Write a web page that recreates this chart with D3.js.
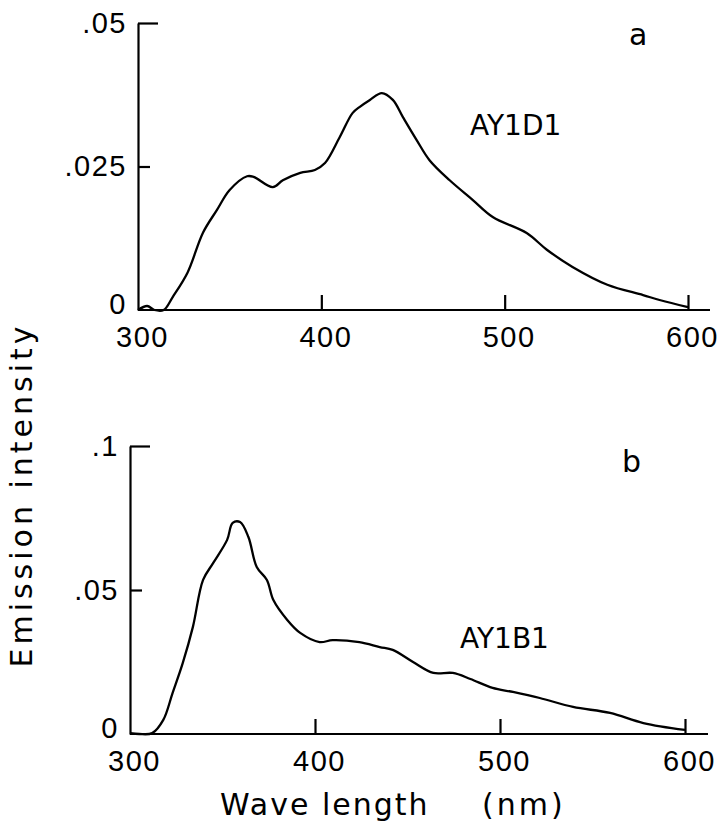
<!DOCTYPE html>
<html>

<head>
    <meta charset="utf-8">
    <title>Emission spectra</title>
    <script src="https://d3js.org/d3.v7.min.js"></script>
    <style>
        body { margin: 0; background: #fff; }
        svg { display: block; font-family: "DejaVu Sans", sans-serif; }
    </style>
</head>

<body>
    <div id="graph"></div>

    <script>
        // wavelength (nm) / emission intensity
        const waveA = [300, 305, 309, 314, 319, 327, 335.5, 343, 350, 359.5, 363, 373.5, 379, 388.5, 396.5, 402, 410, 417, 421, 426.5, 433, 439, 444.5, 452, 459, 470, 482.5, 493.5, 512, 523, 537, 556, 575.5, 585, 600];
        const intensityA = [0, 0.0007, 0, 0, 0.0023, 0.0065, 0.0135, 0.0174, 0.0209, 0.0233, 0.0232, 0.0214, 0.0226, 0.0239, 0.0244, 0.0256, 0.0301, 0.0343, 0.0354, 0.0366, 0.0378, 0.0366, 0.0336, 0.0296, 0.0261, 0.0226, 0.0192, 0.0162, 0.0134, 0.0105, 0.0075, 0.0044, 0.0026, 0.0017, 0.0005];

        const waveB = [300, 305, 312, 318, 323, 328.5, 334, 339.5, 345, 352.5, 355.5, 359.5, 364, 368.5, 374, 377.5, 385, 392, 402.5, 409.5, 424, 435, 442, 453, 464, 474.5, 484, 496, 507, 521.5, 539.5, 559.5, 577.5, 600];
        const intensityB = [0.0003, 0, 0.0003, 0.0049, 0.0142, 0.0246, 0.0372, 0.0535, 0.0594, 0.0674, 0.0733, 0.0736, 0.0684, 0.058, 0.0535, 0.0465, 0.0396, 0.0351, 0.0319, 0.0326, 0.0319, 0.0302, 0.0292, 0.025, 0.0212, 0.0212, 0.0191, 0.016, 0.0146, 0.0125, 0.0094, 0.0073, 0.0038, 0.0014];

        const xTicks = [300, 400, 500, 600];
        const yTicksA = [0, 0.025, 0.05];
        const yTickLabelsA = ["0", ".025", ".05"];
        const yTicksB = [0, 0.05, 0.1];
        const yTickLabelsB = ["0", ".05", ".1"];

        const width = 720, height = 826;

        const svg = d3.select("#graph").append("svg")
            .attr("width", width)
            .attr("height", height);

        svg.append("rect").attr("width", width).attr("height", height).attr("fill", "#fff");

        const panels = [
            {
                wave: waveA, values: intensityA, ticks: yTicksA, labels: yTickLabelsA,
                left: 138, right: 688, axisEnd: 710, top: 23, bottom: 310,
                letter: "a", letterX: 629, letterY: 45,
                name: "AY1D1", nameX: 470, nameY: 135
            },
            {
                wave: waveB, values: intensityB, ticks: yTicksB, labels: yTickLabelsB,
                left: 130, right: 685, axisEnd: 708, top: 446, bottom: 734,
                letter: "b", letterX: 622, letterY: 472,
                name: "AY1B1", nameX: 460, nameY: 648
            }
        ];

        panels.forEach(p => {
            const x = d3.scaleLinear().domain([300, 600]).range([p.left, p.right]);
            const y = d3.scaleLinear().domain([0, d3.max(p.ticks)]).range([p.bottom, p.top]);

            // x axis, ticks pointing up into the plot
            const xAxis = svg.append("g")
                .attr("transform", `translate(0,${p.bottom})`)
                .call(d3.axisBottom(x)
                    .tickValues(xTicks)
                    .tickSizeInner(-15)
                    .tickSizeOuter(0)
                    .tickPadding(16)
                    .tickFormat(d3.format("d")));
            xAxis.select(".domain").attr("d", `M${p.left},0H${p.axisEnd}`);
            xAxis.selectAll(".tick").filter(d => d === 300).select("line").remove();
            xAxis.selectAll(".tick text").attr("dx", 4);

            // y axis, ticks pointing right
            const yAxis = svg.append("g")
                .attr("transform", `translate(${p.left},0)`)
                .call(d3.axisLeft(y)
                    .tickValues(p.ticks)
                    .tickSizeInner(-12)
                    .tickSizeOuter(0)
                    .tickPadding(11)
                    .tickFormat((d, i) => p.labels[i]));
            const zeroTick = yAxis.selectAll(".tick").filter(d => d === 0);
            zeroTick.select("line").remove();
            zeroTick.select("text").attr("y", -6);
            yAxis.selectAll(".tick").filter(d => d === d3.max(p.ticks)).select("line").attr("x2", 20);

            svg.selectAll(".domain, .tick line")
                .attr("stroke", "#000")
                .attr("stroke-width", 2.2);
            svg.selectAll(".tick text")
                .attr("fill", "#000")
                .attr("font-size", 29)
                .attr("letter-spacing", 1.5);

            // spectrum
            const line = d3.line()
                .x((d, i) => x(p.wave[i]))
                .y(d => y(d))
                .curve(d3.curveCatmullRom);

            svg.append("path")
                .datum(p.values)
                .attr("d", line)
                .attr("fill", "none")
                .attr("stroke", "#000")
                .attr("stroke-width", 2.3)
                .attr("stroke-linejoin", "round");

            svg.append("text")
                .attr("x", p.letterX).attr("y", p.letterY)
                .attr("font-size", 30)
                .text(p.letter);

            svg.append("text")
                .attr("x", p.nameX).attr("y", p.nameY)
                .attr("font-size", 28)
                .text(p.name);
        });

        // axis titles
        svg.append("text")
            .attr("transform", "translate(32,495) rotate(-90)")
            .attr("text-anchor", "middle")
            .attr("font-size", 30)
            .attr("letter-spacing", 4)
            .text("Emission intensity");

        const xTitle = svg.append("text")
            .attr("y", 815)
            .attr("font-size", 30)
            .attr("letter-spacing", 2);
        xTitle.append("tspan").attr("x", 220).text("Wave length");
        xTitle.append("tspan").attr("x", 482).attr("letter-spacing", 3).text("(nm)");
    </script>
</body>

</html>
